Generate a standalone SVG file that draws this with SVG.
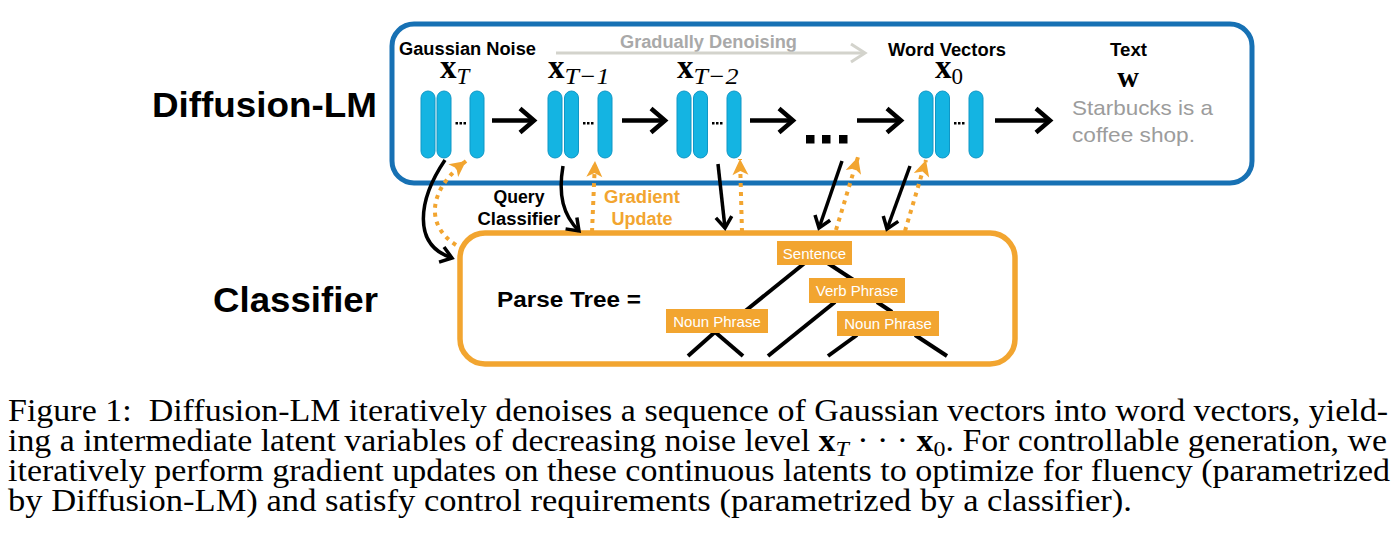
<svg xmlns="http://www.w3.org/2000/svg" width="1400" height="551" viewBox="0 0 1400 551">
<style>
.lbl{font-family:"Liberation Sans",Arial,sans-serif;font-weight:bold;fill:#000}
.big{font-size:35px}
.sm{font-size:17.5px}
.mid{font-size:18px}
.math{font-family:"Liberation Serif","Times New Roman",serif;fill:#000}
.mb{font-weight:bold;font-size:33px}
.ms{font-style:italic;font-size:23px}
.pill{fill:#14b4e2;stroke:#0f97c6;stroke-width:1}
.blk{stroke:#000;fill:none;stroke-width:4.5;stroke-linecap:butt}
.qry{stroke:#000;fill:none;stroke-width:3.5}
.grd{stroke:#f2a530;fill:none;stroke-width:4;stroke-dasharray:4 5}
.tree{stroke:#000;stroke-width:4;fill:none}
.node rect{fill:#f2a530}
.node text{font-family:"Liberation Sans",Arial,sans-serif;font-size:15px;fill:#fff;text-anchor:middle}
.cap{font-family:"Liberation Serif","Times New Roman",serif;font-size:31px;fill:#000}
</style>
<defs>
<marker id="mh" markerUnits="userSpaceOnUse" markerWidth="30" markerHeight="30" refX="0" refY="0" orient="auto" overflow="visible">
<path d="M-14,-12 L0,0 L-14,12" fill="none" stroke="#000" stroke-width="4.5" stroke-linejoin="miter"/>
</marker>
<marker id="mg" markerUnits="userSpaceOnUse" markerWidth="30" markerHeight="30" refX="0" refY="0" orient="auto" overflow="visible">
<path d="M-14,-9 L0,0 L-14,9" fill="none" stroke="#d3d3cc" stroke-width="3"/>
</marker>
<marker id="mq" markerUnits="userSpaceOnUse" markerWidth="30" markerHeight="30" refX="0" refY="0" orient="auto" overflow="visible">
<path d="M-11,-8 L0,0 L-11,8" fill="none" stroke="#000" stroke-width="3.5"/>
</marker>
<marker id="mo" markerUnits="userSpaceOnUse" markerWidth="30" markerHeight="30" refX="0" refY="0" orient="auto" overflow="visible">
<path d="M-16,-8 L0,0 L-16,8 L-12,0 z" fill="#f2a530"/>
</marker>
</defs>
<rect width="1400" height="551" fill="#fff"/>

<g id="diffusion-box">
<rect x="392" y="24" width="860" height="159" rx="22" fill="none" stroke="#1771b4" stroke-width="5"/>
</g>
<g id="classifier-box">
<rect x="460" y="233" width="555" height="131" rx="25" fill="none" stroke="#f2a530" stroke-width="5.5"/>
</g>

<g id="side-labels">
<text class="lbl big" x="152" y="117" textLength="225" lengthAdjust="spacingAndGlyphs">Diffusion-LM</text>
<text class="lbl big" x="213" y="312" textLength="165" lengthAdjust="spacingAndGlyphs">Classifier</text>
</g>

<g id="header-labels">
<text class="lbl sm" x="399" y="55" textLength="137" lengthAdjust="spacingAndGlyphs">Gaussian Noise</text>
<text class="lbl sm" x="620" y="48" textLength="177" lengthAdjust="spacingAndGlyphs" style="fill:#a9a9a9">Gradually Denoising</text>
<text class="lbl sm" x="888" y="56" textLength="118" lengthAdjust="spacingAndGlyphs">Word Vectors</text>
<text class="lbl sm" x="1110" y="56" textLength="37" lengthAdjust="spacingAndGlyphs">Text</text>
</g>

<g id="xT">
<text class="math" x="440" y="78"><tspan class="mb">x</tspan><tspan class="ms" dy="6">T</tspan></text>
<rect class="pill" x="421" y="91" width="14" height="67" rx="7"/>
<rect class="pill" x="437" y="91" width="14" height="67" rx="7"/>
<rect x="455.5" y="122" width="2.5" height="2.5"/><rect x="459.5" y="122" width="2.5" height="2.5"/><rect x="463.5" y="122" width="2.5" height="2.5"/>
<rect class="pill" x="470" y="91" width="14" height="67" rx="7"/>
</g>
<g id="xT1">
<text class="math" x="548" y="78"><tspan class="mb">x</tspan><tspan class="ms" dy="6" textLength="45" lengthAdjust="spacingAndGlyphs">T−1</tspan></text>
<rect class="pill" x="548" y="91" width="14" height="67" rx="7"/>
<rect class="pill" x="564.5" y="91" width="14" height="67" rx="7"/>
<rect x="583" y="122" width="2.5" height="2.5"/><rect x="587" y="122" width="2.5" height="2.5"/><rect x="591" y="122" width="2.5" height="2.5"/>
<rect class="pill" x="598" y="91" width="14" height="67" rx="7"/>
</g>
<g id="xT2">
<text class="math" x="677" y="78"><tspan class="mb">x</tspan><tspan class="ms" dy="6" textLength="45" lengthAdjust="spacingAndGlyphs">T−2</tspan></text>
<rect class="pill" x="677" y="91" width="14" height="67" rx="7"/>
<rect class="pill" x="693.5" y="91" width="14" height="67" rx="7"/>
<rect x="712" y="122" width="2.5" height="2.5"/><rect x="716" y="122" width="2.5" height="2.5"/><rect x="720" y="122" width="2.5" height="2.5"/>
<rect class="pill" x="727" y="91" width="14" height="67" rx="7"/>
</g>
<g id="ellipsis">
<rect x="806" y="135" width="8.5" height="8.5"/>
<rect x="822" y="135" width="8.5" height="8.5"/>
<rect x="839" y="135" width="8.5" height="8.5"/>
</g>
<g id="x0">
<text class="math" x="935" y="78"><tspan class="mb">x</tspan><tspan class="ms" dy="6" style="font-style:normal">0</tspan></text>
<rect class="pill" x="919" y="91" width="14" height="67" rx="7"/>
<rect class="pill" x="935.5" y="91" width="14" height="67" rx="7"/>
<rect x="954" y="122" width="2.5" height="2.5"/><rect x="958" y="122" width="2.5" height="2.5"/><rect x="962" y="122" width="2.5" height="2.5"/>
<rect class="pill" x="969" y="91" width="14" height="67" rx="7"/>
</g>
<g id="text-output">
<text class="math" x="1128" y="87" text-anchor="middle" style="font-weight:bold;font-size:30px">w</text>
<text x="1072" y="115" textLength="141" lengthAdjust="spacingAndGlyphs" style="font-family:'Liberation Sans',Arial,sans-serif;font-size:21px;fill:#9c9c9c">Starbucks is a</text>
<text x="1072" y="142" textLength="123" lengthAdjust="spacingAndGlyphs" style="font-family:'Liberation Sans',Arial,sans-serif;font-size:21px;fill:#9c9c9c">coffee shop.</text>
</g>

<g id="mid-labels">
<text class="lbl mid" x="519" y="203" text-anchor="middle" textLength="51" lengthAdjust="spacingAndGlyphs">Query</text>
<text class="lbl mid" x="519" y="225" text-anchor="middle" textLength="83" lengthAdjust="spacingAndGlyphs">Classifier</text>
<text class="lbl mid" x="642" y="203" text-anchor="middle" textLength="76" lengthAdjust="spacingAndGlyphs" style="fill:#f2a530">Gradient</text>
<text class="lbl mid" x="642" y="225" text-anchor="middle" textLength="61" lengthAdjust="spacingAndGlyphs" style="fill:#f2a530">Update</text>
</g>

<g id="parse-tree">
<text class="lbl" x="497" y="307" textLength="144" lengthAdjust="spacingAndGlyphs" style="font-size:22px">Parse Tree =</text>
<g class="tree">
<line x1="806" y1="262" x2="744" y2="312"/>
<line x1="826" y1="262" x2="855" y2="281"/>
<line x1="835" y1="302" x2="768" y2="356"/>
<line x1="877" y1="302" x2="892" y2="312"/>
<line x1="715" y1="332" x2="688" y2="356"/>
<line x1="715" y1="332" x2="743" y2="356"/>
<line x1="857" y1="335" x2="828" y2="356"/>
<line x1="915" y1="335" x2="947" y2="356"/>
</g>
<g id="node-sentence" class="node"><rect x="777" y="241" width="75" height="24"/><text x="814.5" y="259">Sentence</text></g>
<g id="node-vp" class="node"><rect x="809" y="278" width="96" height="25"/><text x="857" y="296">Verb Phrase</text></g>
<g id="node-np1" class="node"><rect x="666" y="309" width="102" height="24"/><text x="717" y="327">Noun Phrase</text></g>
<g id="node-np2" class="node"><rect x="837" y="311" width="102" height="25"/><text x="888" y="329">Noun Phrase</text></g>
</g>

<g id="connectors">
<line x1="556" y1="53" x2="865" y2="53" stroke="#d3d3cc" stroke-width="3" marker-end="url(#mg)"/>
<line class="blk" x1="492" y1="120.5" x2="534" y2="120.5" marker-end="url(#mh)"/>
<line class="blk" x1="622" y1="120.5" x2="665" y2="120.5" marker-end="url(#mh)"/>
<line class="blk" x1="750" y1="120.5" x2="793" y2="120.5" marker-end="url(#mh)"/>
<line class="blk" x1="857" y1="120.5" x2="901" y2="120.5" marker-end="url(#mh)"/>
<line class="blk" x1="995" y1="120.5" x2="1050" y2="120.5" marker-end="url(#mh)"/>
<path class="qry" d="M445,160 C418,200 412,245 452,258" marker-end="url(#mq)"/>
<path class="qry" d="M563,166 C558,195 563,215 579,231" marker-end="url(#mq)"/>
<path class="qry" d="M718,164 L725,228" marker-end="url(#mq)"/>
<path class="qry" d="M842,161 L819,228" marker-end="url(#mq)"/>
<path class="qry" d="M910,166 L887,229" marker-end="url(#mq)"/>
<path class="grd" d="M456,245 C425,225 428,190 466,161" marker-end="url(#mo)"/>
<path class="grd" d="M592,232 L595,161" marker-end="url(#mo)"/>
<path class="grd" d="M742,232 L740,159" marker-end="url(#mo)"/>
<path class="grd" d="M836,230 L858,157" marker-end="url(#mo)"/>
<path class="grd" d="M905,231 L926,160" marker-end="url(#mo)"/>
</g>

<g id="caption">
<text class="cap" x="8" y="421" textLength="1380" lengthAdjust="spacingAndGlyphs">Figure 1:&#160; Diffusion-LM iteratively denoises a sequence of Gaussian vectors into word vectors, yield-</text>
<text class="cap" x="8" y="451" textLength="1379" lengthAdjust="spacingAndGlyphs">ing a intermediate latent variables of decreasing noise level <tspan font-weight="bold">x</tspan><tspan font-style="italic" font-size="22" dy="5">T</tspan><tspan dy="-5"> · · · </tspan><tspan font-weight="bold">x</tspan><tspan font-size="22" dy="5">0</tspan><tspan dy="-5">. For controllable generation, we</tspan></text>
<text class="cap" x="8" y="481" textLength="1382" lengthAdjust="spacingAndGlyphs">iteratively perform gradient updates on these continuous latents to optimize for fluency (parametrized</text>
<text class="cap" x="8" y="511" textLength="1124" lengthAdjust="spacingAndGlyphs">by Diffusion-LM) and satisfy control requirements (parametrized by a classifier).</text>
</g>
</svg>
